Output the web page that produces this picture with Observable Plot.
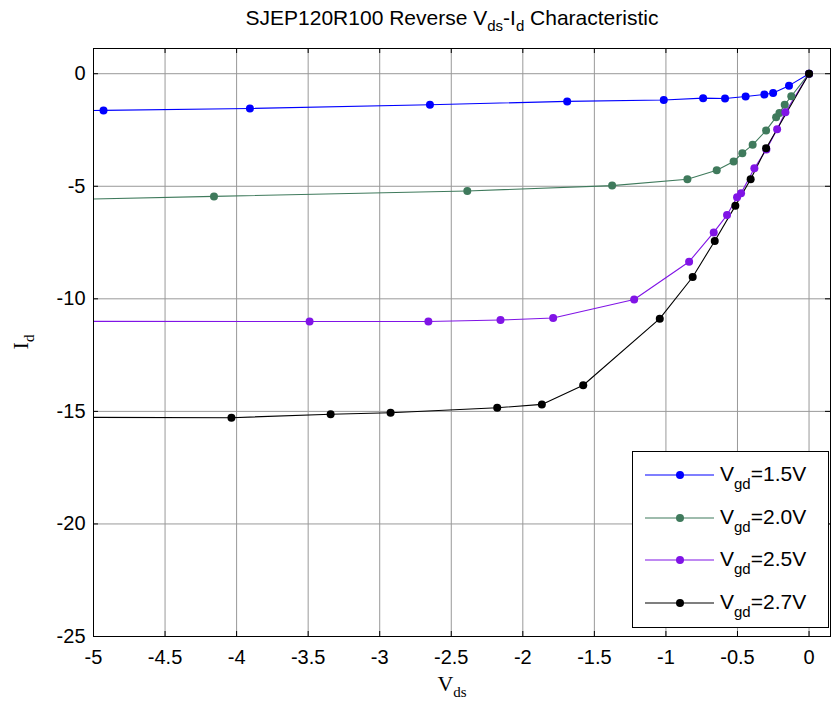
<!DOCTYPE html>
<html><head><meta charset="utf-8">
<script src="https://cdn.jsdelivr.net/npm/d3@7"></script>
<script src="https://cdn.jsdelivr.net/npm/@observablehq/plot@0.6"></script>
<style>body{margin:0;background:#fff} svg{display:block}</style>
</head><body><div id="chart"></div>
<script>
// ---- data ----
const seriesNames = ["1.5V", "2.0V", "2.5V", "2.7V"];
const seriesColors = ["#0000ff", "#3f7a5c", "#8014e6", "#000000"];

const vds15 = [-5.5, -4.93, -3.907, -2.649, -1.69, -1.015, -0.74, -0.587, -0.443, -0.312, -0.251, -0.14, 0];
const id15  = [-1.68, -1.63, -1.545, -1.38, -1.23, -1.17, -1.085, -1.10, -1.01, -0.92, -0.86, -0.53, 0];

const vds20 = [-5.5, -4.158, -2.388, -1.376, -0.85, -0.645, -0.527, -0.466, -0.394, -0.30, -0.23, -0.207, -0.17, -0.124, 0];
const id20  = [-5.63, -5.45, -5.21, -4.97, -4.69, -4.29, -3.90, -3.53, -3.16, -2.52, -1.93, -1.75, -1.38, -1.0, 0];

const vds25 = [-5.5, -3.49, -2.66, -2.156, -1.788, -1.222, -0.838, -0.666, -0.573, -0.503, -0.475, -0.382, -0.298, -0.223, -0.165, 0];
const id25  = [-11.0, -11.01, -11.01, -10.94, -10.85, -10.03, -8.35, -7.05, -6.28, -5.49, -5.31, -4.2, -3.37, -2.47, -1.71, 0];

const vds27 = [-5.5, -4.036, -3.343, -2.924, -2.179, -1.867, -1.578, -1.043, -0.813, -0.659, -0.515, -0.408, -0.30, 0];
const id27  = [-15.26, -15.28, -15.13, -15.06, -14.84, -14.69, -13.84, -10.88, -9.03, -7.43, -5.87, -4.69, -3.31, 0];

const xTicks = [-5, -4.5, -4, -3.5, -3, -2.5, -2, -1.5, -1, -0.5, 0];
const yTicks = [0, -5, -10, -15, -20, -25];

// ---- table ----
const seriesV = [vds15, vds20, vds25, vds27];
const seriesI = [id15, id20, id25, id27];
const data = seriesNames.flatMap((name, k) =>
  seriesV[k].map((v, j) => ({series: name, V: v, I: seriesI[k][j]})));

const W = 831, H = 713, mL = 93, mR = 1, mT = 48, mB = 77;
const pw = W - mL - mR, ph = H - mT - mB;
const sans = "'Liberation Sans', Arial, Helvetica, sans-serif";
const serif = "'Liberation Serif', 'Times New Roman', serif";
const tickLen = 5;

const chart = Plot.plot({
  width: W, height: H,
  marginLeft: mL, marginRight: mR, marginTop: mT, marginBottom: mB,
  style: {fontFamily: sans, fontSize: "20px", color: "#000", background: "#fff"},
  x: {domain: [-5, 0.15]},
  y: {domain: [-25, 1.12]},
  color: {domain: seriesNames, range: seriesColors},
  marks: [
    Plot.gridX(xTicks, {stroke: "#999", strokeOpacity: 1, strokeWidth: 1}),
    Plot.gridY(yTicks, {stroke: "#999", strokeOpacity: 1, strokeWidth: 1}),
    Plot.line(data, {x: "V", y: "I", z: "series", stroke: "series", strokeWidth: 1.1, clip: true}),
    Plot.dot(data, {x: "V", y: "I", fill: "series", r: 4, clip: true}),
    // inward ticks
    Plot.tickX(xTicks, {x: d => d, stroke: "#000", insetTop: ph - tickLen}),
    Plot.tickX(xTicks, {x: d => d, stroke: "#000", insetBottom: ph - tickLen}),
    Plot.tickY(yTicks, {y: d => d, stroke: "#000", insetRight: pw - tickLen}),
    Plot.tickY(yTicks, {y: d => d, stroke: "#000", insetLeft: pw - tickLen}),
    Plot.frame({stroke: "#000", strokeWidth: 1}),
    Plot.axisX(xTicks, {tickSize: 0, tickPadding: 13, tickFormat: d => String(d), label: null, fontSize: 20}),
    Plot.axisY(yTicks, {tickSize: 0, tickPadding: 8, tickFormat: d => String(d), label: null, fontSize: 20})
  ]
});

document.getElementById("chart").appendChild(chart);
const svg = d3.select(chart);

// title
const title = svg.append("text")
  .attr("x", 452).attr("y", 25).attr("text-anchor", "middle")
  .style("font-family", sans).style("font-size", "21px");
title.append("tspan").text("SJEP120R100 Reverse V");
title.append("tspan").attr("dy", 6).style("font-size", "15px").text("ds");
title.append("tspan").attr("dy", -6).text("-I");
title.append("tspan").attr("dy", 6).style("font-size", "15px").text("d");
title.append("tspan").attr("dy", -6).text(" Characteristic");

// x label
const xl = svg.append("text")
  .attr("x", 452).attr("y", 691).attr("text-anchor", "middle")
  .style("font-family", serif).style("font-size", "22px");
xl.append("tspan").text("V");
xl.append("tspan").attr("dy", 6).style("font-size", "15px").text("ds");

// y label (rotated)
const yl = svg.append("text")
  .attr("transform", `translate(28,${mT + ph / 2}) rotate(-90)`)
  .attr("text-anchor", "middle")
  .style("font-family", serif).style("font-size", "22px");
yl.append("tspan").text("I");
yl.append("tspan").attr("dy", 6).style("font-size", "15px").text("d");

// legend
const lg = svg.append("g");
lg.append("rect").attr("x", 632.5).attr("y", 451.5).attr("width", 196).attr("height", 176)
  .attr("fill", "#fff").attr("stroke", "#000").attr("stroke-width", 1);
const rowsY = [475, 518, 560, 603];
seriesNames.forEach((name, k) => {
  const y = rowsY[k];
  lg.append("line").attr("x1", 645).attr("x2", 714).attr("y1", y).attr("y2", y)
    .attr("stroke", seriesColors[k]).attr("stroke-width", 1.1);
  lg.append("circle").attr("cx", 680).attr("cy", y).attr("r", 4).attr("fill", seriesColors[k]);
  const t = lg.append("text").attr("x", 720).attr("y", y + 6).attr("text-anchor", "start")
    .style("font-family", sans).style("font-size", "21px");
  t.append("tspan").text("V");
  t.append("tspan").attr("dy", 8).style("font-size", "15px").text("gd");
  t.append("tspan").attr("dy", -8).text("=" + name);
});
</script></body></html>
